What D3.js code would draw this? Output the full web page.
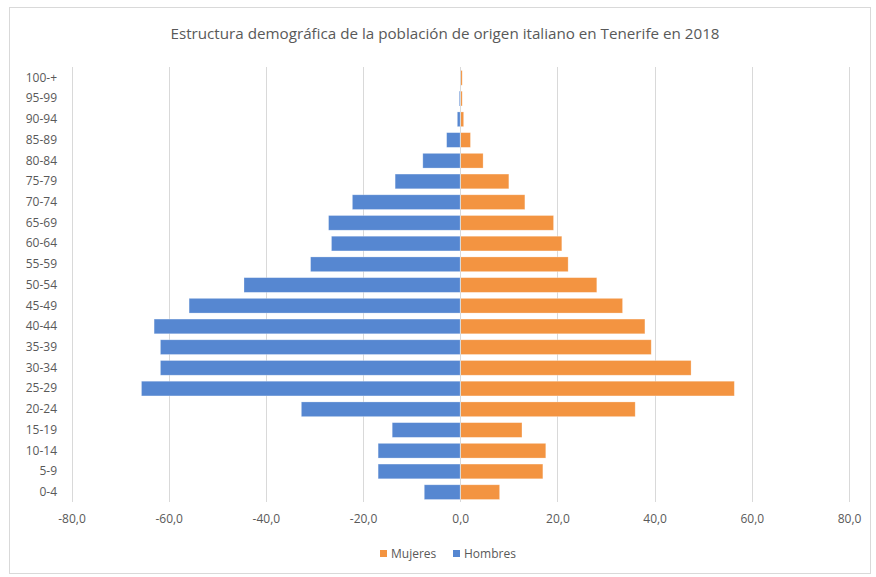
<!DOCTYPE html>
<html>
<head>
<meta charset="utf-8">
<script src="https://cdn.jsdelivr.net/npm/d3@7"></script>
<style>
  html, body { margin: 0; padding: 0; background: #fff; }
  svg { display: block; }
</style>
</head>
<body>
<svg id="chart" width="876" height="577"></svg>
<script>
const categories = ["0-4","5-9","10-14","15-19","20-24","25-29","30-34","35-39","40-44","45-49","50-54","55-59","60-64","65-69","70-74","75-79","80-84","85-89","90-94","95-99","100-+"];
const hombres = [-7.4,-16.9,-16.9,-14.0,-32.7,-65.6,-61.7,-61.7,-63.0,-55.8,-44.5,-30.8,-26.5,-27.1,-22.2,-13.4,-7.7,-2.8,-0.6,-0.2,0];
const mujeres = [8.1,17.0,17.6,12.7,36.0,56.4,47.5,39.3,38.0,33.4,28.1,22.2,20.9,19.2,13.3,10.0,4.7,2.1,0.7,0.4,0.4];
const xTicks = [-80,-60,-40,-20,0,20,40,60,80];
const seriesNames = ["Mujeres","Hombres"];
const colors = {Mujeres: "#f39441", Hombres: "#5687d1"};
const title = "Estructura demográfica de la población de origen italiano en Tenerife en 2018";

const svg = d3.select("#chart");
const textColor = "#595959";
const fontFam = "'Open Sans', 'Liberation Sans', sans-serif";

// outer frame
svg.append("rect").attr("x", 9.5).attr("y", 7.5).attr("width", 861).attr("height", 566)
  .attr("fill", "#fff").attr("stroke", "#d9d9d9").attr("stroke-width", 1);

const x = d3.scaleLinear().domain([-80, 80]).range([71.5, 849]);
const y = d3.scaleBand().domain(categories.slice().reverse()).range([67.5, 502.5])
  .paddingInner(0.29).paddingOuter(0.145);

// gridlines
svg.append("g").selectAll("line").data(xTicks).join("line")
  .attr("x1", d => Math.round(x(d)) + 0.5).attr("x2", d => Math.round(x(d)) + 0.5)
  .attr("y1", 67).attr("y2", 502)
  .attr("stroke", "#d9d9d9").attr("stroke-width", 1);

// bars
const gBars = svg.append("g");
gBars.selectAll("rect.h").data(categories).join("rect").attr("class", "h")
  .attr("x", (d, i) => x(Math.min(0, hombres[i])))
  .attr("width", (d, i) => Math.abs(x(hombres[i]) - x(0)))
  .attr("y", d => y(d)).attr("height", y.bandwidth())
  .attr("fill", colors.Hombres).attr("stroke", "#fff").attr("stroke-opacity", 0.35).attr("stroke-width", 0.75);
gBars.selectAll("rect.m").data(categories).join("rect").attr("class", "m")
  .attr("x", x(0))
  .attr("width", (d, i) => Math.abs(x(mujeres[i]) - x(0)))
  .attr("y", d => y(d)).attr("height", y.bandwidth())
  .attr("fill", colors.Mujeres).attr("stroke", "#fff").attr("stroke-opacity", 0.35).attr("stroke-width", 0.75);

// vertical axis at zero
svg.append("line").attr("x1", Math.round(x(0)) + 0.5).attr("x2", Math.round(x(0)) + 0.5)
  .attr("y1", 67).attr("y2", 502).attr("stroke", "#d9d9d9").attr("stroke-width", 1);

// x axis labels
const fmt = d => d3.format(".1f")(d).replace(".", ",").replace("−", "-");
const xAxis = d3.axisBottom(x).tickValues(xTicks).tickSize(0).tickFormat(fmt);
const gx = svg.append("g").attr("transform", "translate(0,511)").call(xAxis);
gx.select(".domain").remove();
gx.selectAll("text").attr("fill", textColor).attr("font-size", "12px").attr("font-family", fontFam);

// y axis labels
const yAxis = d3.axisLeft(y).tickSize(0).tickPadding(0);
const gy = svg.append("g").attr("transform", "translate(57,0)").call(yAxis);
gy.select(".domain").remove();
gy.selectAll("text").attr("fill", textColor).attr("font-size", "12px").attr("font-family", fontFam);

// title
svg.append("text").attr("x", 445).attr("y", 39).attr("text-anchor", "middle")
  .attr("fill", textColor).attr("font-size", "15.2px").attr("font-family", fontFam)
  .text(title);

// legend
const legend = svg.append("g");
const legendItems = [{name: "Mujeres", x: 380}, {name: "Hombres", x: 453}];
legendItems.forEach(it => {
  legend.append("rect").attr("x", it.x).attr("y", 550).attr("width", 7).attr("height", 7)
    .attr("fill", colors[it.name]);
  legend.append("text").attr("x", it.x + 11).attr("y", 558)
    .attr("fill", textColor).attr("font-size", "12px").attr("font-family", fontFam)
    .text(it.name);
});
</script>
</body>
</html>
